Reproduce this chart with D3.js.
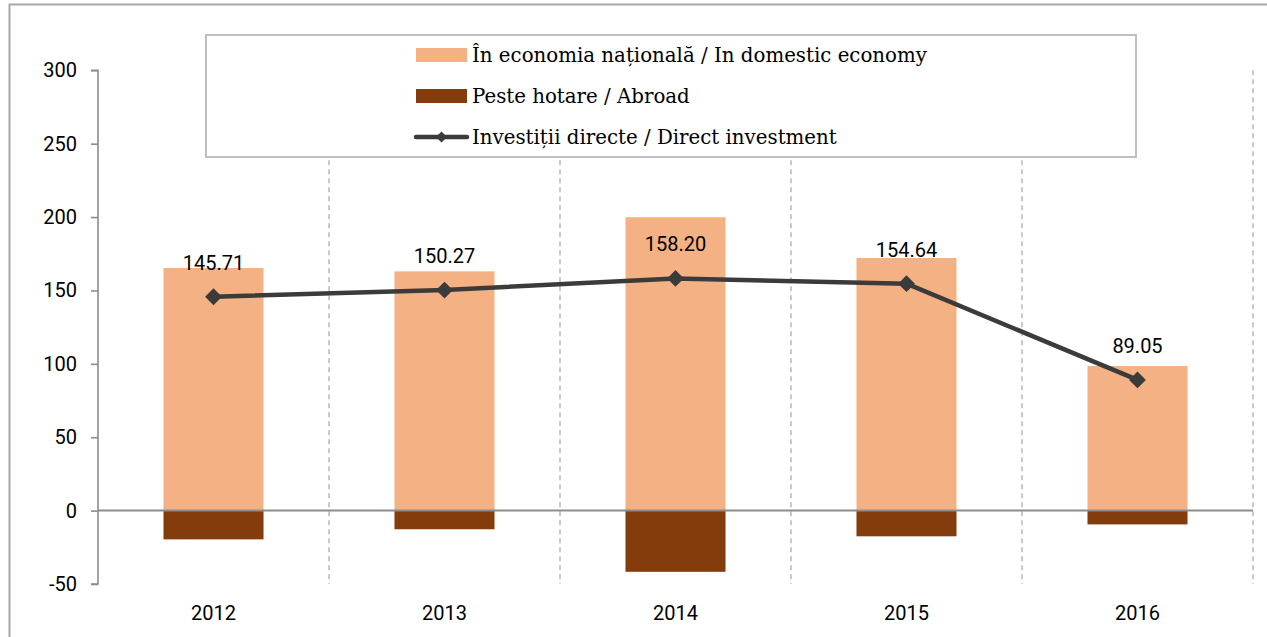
<!DOCTYPE html>
<html>
<head>
<meta charset="utf-8">
<script src="https://cdn.jsdelivr.net/npm/d3@7"></script>
<style>
  body { margin: 0; background: #fff; }
  svg { display: block; }
</style>
</head>
<body>
<div id="chart"></div>
<script>
const years = ["2012", "2013", "2014", "2015", "2016"];
const domestic = [165.3, 163.0, 199.9, 172.1, 98.5];
const abroad = [-19.6, -12.7, -41.7, -17.5, -9.4];
const direct = [145.71, 150.27, 158.20, 154.64, 89.05];
const yTicks = [-50, 0, 50, 100, 150, 200, 250, 300];
const legendLabels = [
  "În economia națională / In domestic economy",
  "Peste hotare / Abroad",
  "Investiții directe / Direct investment"
];

const width = 1267, height = 637;
const colors = { domestic: "#F4B183", abroad: "#843C0C", line: "#3b3b3b", axis: "#8c8c8c", grid: "#a6a6a6" };
const sans = "Roboto, 'Noto Sans', sans-serif";
const serif = "'DejaVu Serif', serif";

const svg = d3.select("#chart").append("svg")
  .attr("width", width)
  .attr("height", height);

// outer frame (only top and left edges are visible)
svg.append("line").attr("x1", 9).attr("x2", width).attr("y1", 4.5).attr("y2", 4.5)
  .attr("stroke", "#a6a6a6").attr("stroke-width", 2);
svg.append("line").attr("x1", 9.5).attr("x2", 9.5).attr("y1", 4).attr("y2", height)
  .attr("stroke", "#a6a6a6").attr("stroke-width", 2);

const x = d3.scaleBand()
  .domain(years)
  .range([98, 1253])
  .paddingInner(0.567)
  .paddingOuter(0.2835);

const y = d3.scaleLinear()
  .domain([-50, 300])
  .range([584, 70.3]);

const step = x.step();
const cx = d => x(d) + x.bandwidth() / 2;

// dashed separators between categories
svg.append("g")
  .selectAll("line")
  .data(years)
  .join("line")
  .attr("x1", (d, i) => 98 + (i + 1) * step)
  .attr("x2", (d, i) => 98 + (i + 1) * step)
  .attr("y1", y(300))
  .attr("y2", y(-50))
  .attr("stroke", colors.grid)
  .attr("stroke-width", 1.2)
  .attr("stroke-dasharray", "5,4");

// bars
svg.append("g")
  .selectAll("rect")
  .data(years)
  .join("rect")
  .attr("x", d => x(d))
  .attr("width", x.bandwidth())
  .attr("y", (d, i) => y(domestic[i]))
  .attr("height", (d, i) => y(0) - y(domestic[i]))
  .attr("fill", colors.domestic);

svg.append("g")
  .selectAll("rect")
  .data(years)
  .join("rect")
  .attr("x", d => x(d))
  .attr("width", x.bandwidth())
  .attr("y", y(0))
  .attr("height", (d, i) => y(abroad[i]) - y(0))
  .attr("fill", colors.abroad);

// y axis
const yAxis = svg.append("g")
  .attr("transform", "translate(98,0)")
  .call(d3.axisLeft(y).tickValues(yTicks).tickSize(7).tickPadding(14)
    .tickFormat(d => String(d).replace("−", "-")));
yAxis.select(".domain").attr("stroke", colors.axis).attr("stroke-width", 1.6)
  .attr("d", `M-7,${y(300)}H0V${y(-50)}H-7`);
yAxis.selectAll(".tick line").attr("stroke", colors.axis).attr("stroke-width", 1.6);
yAxis.selectAll(".tick text")
  .attr("fill", "#000")
  .style("font-family", sans)
  .style("font-size", "20px");

// zero line
svg.append("line")
  .attr("x1", 98).attr("x2", 1253)
  .attr("y1", y(0)).attr("y2", y(0))
  .attr("stroke", colors.axis)
  .attr("stroke-width", 2);

// x labels
svg.append("g")
  .selectAll("text")
  .data(years)
  .join("text")
  .attr("x", d => cx(d))
  .attr("y", 620)
  .attr("text-anchor", "middle")
  .style("font-family", sans)
  .style("font-size", "20px")
  .text(d => d);

// direct investment line
const line = d3.line()
  .x((d, i) => cx(years[i]))
  .y(d => y(d));

svg.append("path")
  .datum(direct)
  .attr("d", line)
  .attr("fill", "none")
  .attr("stroke", colors.line)
  .attr("stroke-width", 4.5)
  .attr("stroke-linejoin", "round");

const diamond = d3.symbol().type(d3.symbolDiamond2).size(180);

svg.append("g")
  .selectAll("path")
  .data(direct)
  .join("path")
  .attr("transform", (d, i) => `translate(${cx(years[i])},${y(d)})`)
  .attr("d", diamond)
  .attr("fill", colors.line);

svg.append("g")
  .selectAll("text")
  .data(direct)
  .join("text")
  .attr("x", (d, i) => cx(years[i]))
  .attr("y", d => y(d) - 27)
  .attr("text-anchor", "middle")
  .style("font-family", sans)
  .style("font-size", "20px")
  .text(d => d.toFixed(2));

// legend
const legend = svg.append("g");
legend.append("rect")
  .attr("x", 206).attr("y", 35)
  .attr("width", 930).attr("height", 122)
  .attr("fill", "#fff")
  .attr("stroke", "#bfbfbf")
  .attr("stroke-width", 2);

const rowY = [55, 96, 137];
legend.append("rect").attr("x", 416).attr("y", rowY[0] - 7).attr("width", 51).attr("height", 14).attr("fill", colors.domestic);
legend.append("rect").attr("x", 416).attr("y", rowY[1] - 7).attr("width", 51).attr("height", 14).attr("fill", colors.abroad);
legend.append("line").attr("x1", 416).attr("x2", 467).attr("y1", rowY[2]).attr("y2", rowY[2])
  .attr("stroke", colors.line).attr("stroke-width", 4.5).attr("stroke-linecap", "round");
legend.append("path").attr("transform", `translate(441.5,${rowY[2]})`)
  .attr("d", d3.symbol().type(d3.symbolDiamond2).size(80)).attr("fill", colors.line);

legend.selectAll("text.lg")
  .data(legendLabels)
  .join("text")
  .attr("class", "lg")
  .attr("x", 472)
  .attr("y", (d, i) => rowY[i])
  .attr("dy", "0.35em")
  .style("font-family", serif)
  .style("font-size", "19.8px")
  .attr("fill", "#000")
  .text(d => d);
</script>
</body>
</html>
